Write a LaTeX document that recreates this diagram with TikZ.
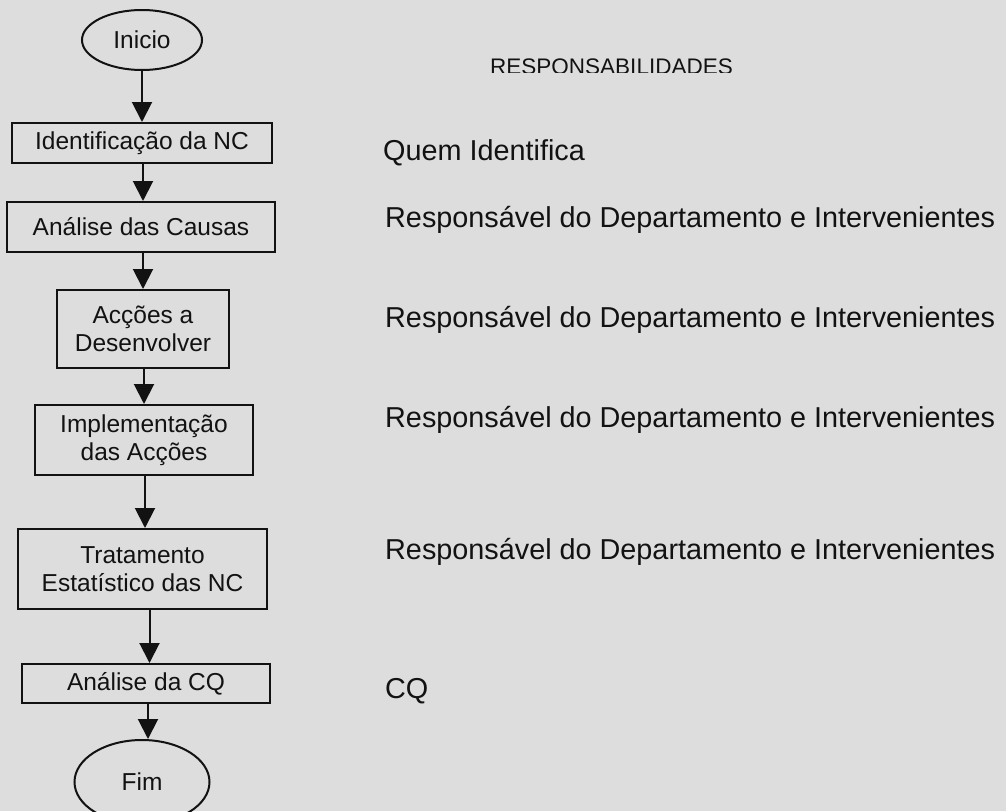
\documentclass[tikz,border=0pt]{standalone}
\usepackage{fontspec}
\setmainfont{Liberation Sans}
\usetikzlibrary{arrows.meta,shapes.geometric}
\definecolor{paper}{RGB}{221,221,221}
\definecolor{ink}{RGB}{18,18,18}
\begin{document}
\begin{tikzpicture}[x=1pt,y=-1pt,
  every node/.style={text=ink},
  flowbox/.style={draw=ink,line width=2pt,rectangle,inner sep=0pt,align=center,
    font=\fontsize{24.5}{27.5}\selectfont},
  terminal/.style={draw=ink,line width=2pt,ellipse,inner sep=0pt,
    font=\fontsize{24.5}{27.5}\selectfont},
  flowarrow/.style={draw=ink,line width=2pt,-{Triangle[width=20pt,length=20pt]}},
  resp/.style={anchor=base west,inner sep=0pt,font=\fontsize{28.8}{32}\selectfont}]
  \clip (0,0) rectangle (1006,811);
  \useasboundingbox[fill=paper] (0,0) rectangle (1006,811);

  % process steps
  \node[terminal,minimum width=120pt,minimum height=60pt] (inicio) at (142,40) {Inicio};
  \node[flowbox,minimum width=260pt,minimum height=40pt] (ident) at (142,143) {Identificação da NC};
  \node[flowbox,minimum width=268pt,minimum height=50pt] (causas) at (141,227) {Análise das Causas};
  \node[flowbox,minimum width=172pt,minimum height=78pt] (accoes) at (143,329) {Acções a\\Desenvolver};
  \node[flowbox,minimum width=218pt,minimum height=70pt] (implem) at (144,440) {Implementação\\das Acções};
  \node[flowbox,minimum width=249pt,minimum height=80pt] (estat) at (142.5,569) {Tratamento\\Estatístico das NC};
  \node[flowbox,minimum width=248pt,minimum height=39pt] (analcq) at (146,683.5) {Análise da CQ};
  \node[terminal,minimum width=135pt,minimum height=84pt] (fim) at (142,782) {Fim};

  % flow
  \draw[flowarrow] (inicio.south) -- (inicio.south |- ident.north);
  \draw[flowarrow] ([xshift=1pt]ident.south) -- ([xshift=1pt]ident.south |- causas.north);
  \draw[flowarrow] ([xshift=2pt]causas.south) -- ([xshift=2pt]causas.south |- accoes.north);
  \draw[flowarrow] ([xshift=1pt]accoes.south) -- ([xshift=1pt]accoes.south |- implem.north);
  \draw[flowarrow] ([xshift=1pt]implem.south) -- ([xshift=1pt]implem.south |- estat.north);
  \draw[flowarrow] ([xshift=7pt]estat.south) -- ([xshift=7pt]estat.south |- analcq.north);
  \draw[flowarrow] ([xshift=2pt]analcq.south) -- ([xshift=2pt]analcq.south |- fim.north);

  % responsibilities column
  \begin{scope}
    \clip (480,40) rectangle (760,72);
    \node[resp,font=\fontsize{22.5}{26}\selectfont] (titulo) at (490,74) {RESPONSABILIDADES};
  \end{scope}
  \node[resp] (r1) at (383,160) {Quem Identifica};
  \node[resp] (r2) at (385,227) {Responsável do Departamento e Intervenientes};
  \node[resp] (r3) at (385,327) {Responsável do Departamento e Intervenientes};
  \node[resp] (r4) at (385,427) {Responsável do Departamento e Intervenientes};
  \node[resp] (r5) at (385,559) {Responsável do Departamento e Intervenientes};
  \node[resp] (r6) at (385,698) {CQ};
\end{tikzpicture}
\end{document}
